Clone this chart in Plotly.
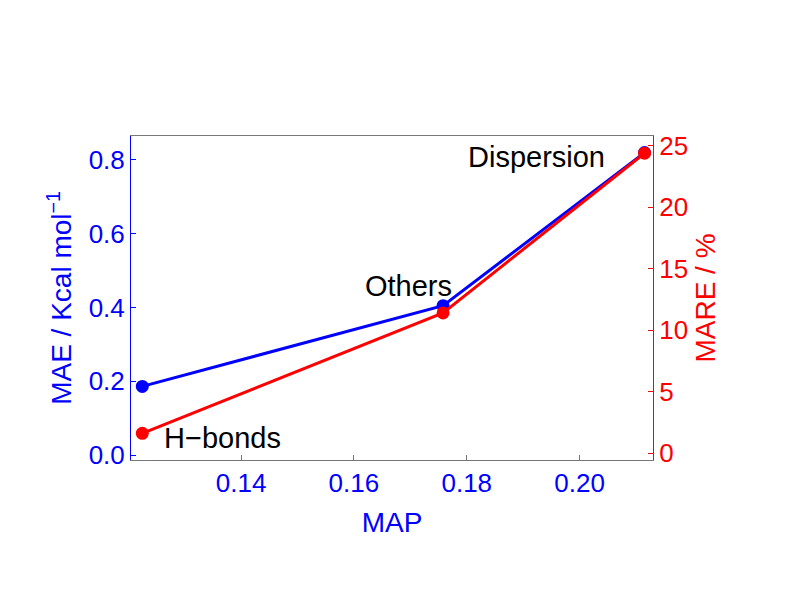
import plotly.graph_objects as go

# data
map_vals = [0.1225, 0.1758, 0.2115]
mae_vals = [0.186, 0.405, 0.82]
mare_vals = [1.6, 11.4, 24.4]
labels = ["H\u2212bonds", "Others", "Dispersion"]

fig = go.Figure()
fig.add_trace(go.Scatter(x=map_vals, y=mae_vals, mode="lines+markers",
                         line=dict(color="blue", width=3), marker=dict(size=13, color="blue"),
                         showlegend=False))
fig.add_trace(go.Scatter(x=map_vals, y=mare_vals, mode="lines+markers", yaxis="y2",
                         line=dict(color="red", width=3), marker=dict(size=13, color="red"),
                         showlegend=False))

# labels next to points
fig.add_annotation(x=map_vals[0], y=mare_vals[0], yref="y2", text=labels[0], showarrow=False,
                   xanchor="left", yanchor="middle", xshift=20, yshift=-5, font=dict(size=29, color="black"))
fig.add_annotation(x=map_vals[1], y=mae_vals[1], text=labels[1], showarrow=False,
                   xanchor="center", yanchor="bottom", xshift=-35, yshift=2, font=dict(size=29, color="black"))
fig.add_annotation(x=map_vals[2], y=mae_vals[2], text=labels[2], showarrow=False,
                   xanchor="right", yanchor="middle", xshift=-38, yshift=-4, font=dict(size=29, color="black"))

font = "Liberation Sans, Arial, sans-serif"
fig.update_layout(
    width=789, height=595, paper_bgcolor="white", plot_bgcolor="white",
    margin=dict(l=123, r=144, t=128, b=143),
    font=dict(family=font),
    xaxis=dict(range=[0.1205, 0.213], tickvals=[0.14, 0.16, 0.18, 0.20],
               ticktext=["0.14", "0.16", "0.18", "0.20"],
               tickfont=dict(size=26, color="blue"), title=dict(text="MAP", font=dict(size=28, color="blue")),
               showgrid=False, showline=True, linecolor="#777", mirror=True, ticks="inside",
               tickcolor="#777", zeroline=False),
    yaxis=dict(range=[-0.0135, 0.865], tickvals=[0.0, 0.2, 0.4, 0.6, 0.8],
               ticktext=["0.0", "0.2", "0.4", "0.6", "0.8"],
               tickfont=dict(size=26, color="blue"),
               title=dict(text="MAE / Kcal mol<sup>\u22121</sup>", font=dict(size=28, color="blue"), standoff=8),
               showgrid=False, showline=True, linecolor="blue", ticks="inside", tickcolor="blue",
               zeroline=False),
    yaxis2=dict(range=[-0.57, 25.8], overlaying="y", side="right", tickvals=[0, 5, 10, 15, 20, 25],
                tickfont=dict(size=26, color="red"),
                title=dict(text="MARE / %", font=dict(size=28, color="red"), standoff=8),
                showgrid=False, showline=True, linecolor="red", ticks="inside", tickcolor="red",
                zeroline=False),
)

fig.write_html("out.html")
